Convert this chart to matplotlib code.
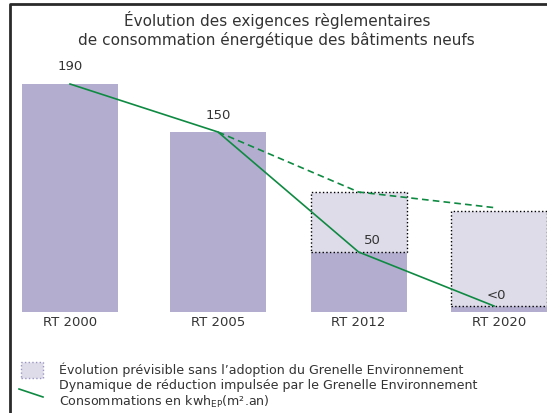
import matplotlib.pyplot as plt
from matplotlib.patches import Rectangle
from matplotlib.lines import Line2D

labels = ["RT 2000", "RT 2005", "RT 2012", "RT 2020"]
pos = [0, 1, 1.95, 2.9]          # bar centres (uneven spacing as in the source)
conso = [190, 150, 50, 5]         # kwhEP/(m2.an)
sans_grenelle = [None, None, 100, 84]   # tops of the dotted "without Grenelle" boxes
line_pos = [0, 1, 1.95, 2.865]
line_dyn = [190, 150, 50, 5]
dash_pos = [1, 1.95, 2.865]
dash_vals = [150, 100, 87]
value_txt = ["190", "150", "50", "<0"]

bar_col = "#b3aecf"
box_col = "#dfdcea"
green = "#0f8a42"
txt_col = "#333333"

fig = plt.figure(figsize=(5.47, 4.14), dpi=100)
ax = fig.add_axes([0, (414 - 313) / 414, 1, (313 - 60) / 414])
ax.set_xlim(-70 / 148, (547 - 70) / 148)
ax.set_ylim(0, (313 - 60) / 1.2)

w = 96 / 148
ax.bar(pos, conso, width=w, color=bar_col, zorder=1)
for p, c, s in zip(pos, conso, sans_grenelle):
    if s is not None:
        ax.bar(p, s - c, bottom=c, width=w, color=box_col, edgecolor="black",
               linestyle=":", linewidth=1, zorder=1)

ax.plot(line_pos, line_dyn, color=green, lw=1.2, zorder=3)
ax.plot(dash_pos, dash_vals, color=green, lw=1.2, ls=(0, (4, 2.5)), zorder=3)

# value labels
ax.text(pos[0], conso[0] + 10, value_txt[0], ha="center", va="bottom", fontsize=9.5, color=txt_col)
ax.text(pos[1], conso[1] + 9, value_txt[1], ha="center", va="bottom", fontsize=9.5, color=txt_col)
ax.text(pos[2] + 0.09, conso[2] + 5, value_txt[2], ha="center", va="bottom", fontsize=9.5, color=txt_col)
ax.text(pos[3] - 0.02, conso[3] + 4, value_txt[3], ha="center", va="bottom", fontsize=9.5, color=txt_col)

ax.set_xticks(pos)
ax.set_xticklabels(labels, fontsize=9.5, color=txt_col)
ax.tick_params(axis="x", length=0, pad=2)
ax.set_yticks([])
for sp in ax.spines.values():
    sp.set_visible(False)

# title
fig.text(0.506, 1 - 20 / 414, "Évolution des exigences règlementaires",
         ha="center", va="center", fontsize=11, color=txt_col)
fig.text(0.505, 1 - 40 / 414, "de consommation énergétique des bâtiments neufs",
         ha="center", va="center", fontsize=11, color=txt_col)

# frame (cropped box)
fig.add_artist(Line2D([9.5 / 547, 9.5 / 547, 1], [0, 1 - 5 / 414, 1 - 5 / 414],
                      transform=fig.transFigure, color="#2a2a2a", lw=2))

# legend
fig.add_artist(Rectangle((21 / 547, 1 - 379 / 414), 22 / 547, 16 / 414,
                         transform=fig.transFigure, facecolor=box_col,
                         edgecolor="#9a96c0", linestyle=":", lw=1))
fig.add_artist(Line2D([19 / 547, 43 / 547], [1 - 390 / 414, 1 - 398 / 414],
                      transform=fig.transFigure, color=green, lw=1.2))
leg_lines = ["Évolution prévisible sans l’adoption du Grenelle Environnement",
             "Dynamique de réduction impulsée par le Grenelle Environnement",
             r"Consommations en kwh$_{\mathrm{EP}}$(m².an)"]
for i, t in enumerate(leg_lines):
    fig.text(59 / 547, 1 - (370 + 16 * i) / 414, t, ha="left", va="center",
             fontsize=9.1, color=txt_col)

fig.savefig("out.png", dpi=100)
